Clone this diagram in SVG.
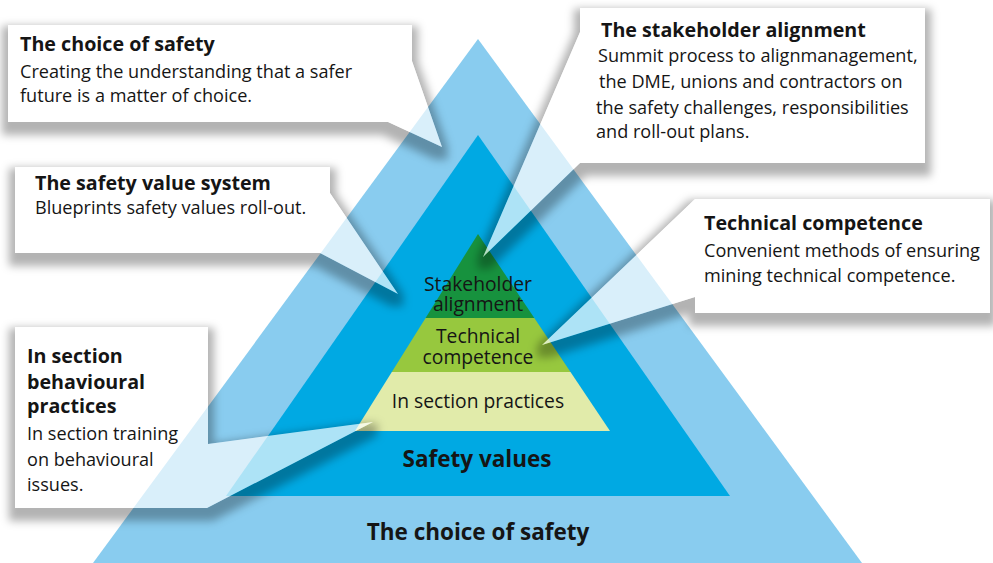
<svg xmlns="http://www.w3.org/2000/svg" width="993" height="563" viewBox="0 0 993 563">
<defs>
<filter id="shadow" x="-20%" y="-20%" width="140%" height="160%">
<feMorphology in="SourceAlpha" operator="dilate" radius="6" result="d"/>
<feOffset in="d" dy="7" result="o"/>
<feGaussianBlur in="o" stdDeviation="4" result="b"/>
<feFlood flood-color="#000" flood-opacity="0.3"/>
<feComposite in2="b" operator="in" result="s"/>
<feComposite in="s" in2="SourceAlpha" operator="out"/>
</filter>
</defs>
<style>
.sh{fill:#000;filter:url(#shadow)}
.co{fill:#fff;fill-opacity:0.68}
text{font-family:"Open Sans","Noto Sans",sans-serif;fill:#151515}
.body{font-size:18.1px}
.title{font-size:19.7px;font-weight:700}
.lvl{font-size:19.3px;text-anchor:middle}
.big{font-size:22.5px;font-weight:700;text-anchor:middle}
</style>
<rect width="993" height="563" fill="#fff"/>
<g id="choice-of-safety">
<polygon points="478,39 862,563 93,563" fill="#89CCEF"/>
<text class="big" x="478" y="540">The choice of safety</text>
</g>
<g id="safety-values">
<polygon points="478,135 730,496 226,496" fill="#00A9E3"/>
<text class="big" x="477" y="467">Safety values</text>
</g>
<g id="pyramid">
<polygon points="478,234 534.3,318 425.6,318" fill="#17923E"/>
<polygon points="425.6,318 534.3,318 570.5,372 391.8,372" fill="#97C83E"/>
<polygon points="391.8,372 570.5,372 610,431 355,431" fill="#E1EBAA"/>
<text class="lvl" x="478" y="291">Stakeholder</text>
<text class="lvl" x="478" y="311">alignment</text>
<text class="lvl" x="478" y="343">Technical</text>
<text class="lvl" x="478" y="364">competence</text>
<text class="lvl" x="478" y="408">In section practices</text>
</g>
<g id="connectors"></g>
<g id="callout-choice">
<polygon class="sh" points="8,25 412,25 412,61 442,147 388,122 8,122"/>
<polygon class="co" points="8,25 412,25 412,61 442,147 388,122 8,122"/>
<text class="title" x="20" y="51">The choice of safety</text>
<text class="body" x="20" y="78">Creating the understanding that a safer</text>
<text class="body" x="20" y="102">future is a matter of choice.</text>
</g>
<g id="callout-value-system">
<polygon class="sh" points="15,167 330,167 330,193 398,294 320,253 15,253"/>
<polygon class="co" points="15,167 330,167 330,193 398,294 320,253 15,253"/>
<text class="title" x="35" y="190">The safety value system</text>
<text class="body" x="35" y="214">Blueprints safety values roll-out.</text>
</g>
<g id="callout-stakeholder">
<polygon class="sh" points="580,8 925,8 925,163 580,163 483,257 580,32"/>
<polygon class="co" points="580,8 925,8 925,163 580,163 483,257 580,32"/>
<text class="title" x="601" y="37">The stakeholder alignment</text>
<text class="body" x="598" y="62">Summit process to alignmanagement,</text>
<text class="body" x="599" y="88">the DME, unions and contractors on</text>
<text class="body" x="596" y="114">the safety challenges, responsibilities</text>
<text class="body" x="596" y="138">and roll-out plans.</text>
</g>
<g id="callout-technical">
<polygon class="sh" points="695,199 990,199 990,313 695,313 695,297 542,345"/>
<polygon class="co" points="695,199 990,199 990,313 695,313 695,297 542,345"/>
<text class="title" x="704" y="230">Technical competence</text>
<text class="body" x="704" y="257">Convenient methods of ensuring</text>
<text class="body" x="704" y="282">mining technical competence.</text>
</g>
<g id="callout-in-section">
<polygon class="sh" points="15,327 208,327 208,444 373,422 207,508 15,508"/>
<polygon class="co" points="15,327 208,327 208,444 373,422 207,508 15,508"/>
<text class="title" x="27" y="363">In section</text>
<text class="title" x="27" y="389">behavioural</text>
<text class="title" x="27" y="413">practices</text>
<text class="body" x="27" y="440">In section training</text>
<text class="body" x="27" y="466">on behavioural</text>
<text class="body" x="27" y="491">issues.</text>
</g>
</svg>
